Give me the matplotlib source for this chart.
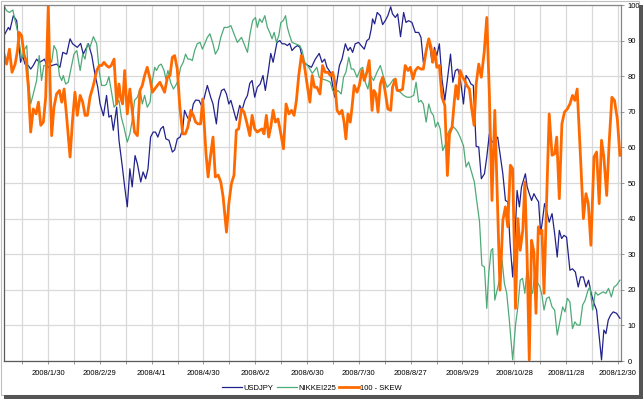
import numpy as np
from matplotlib import pyplot as plt, rcParams, ticker
from matplotlib.patches import Rectangle

rcParams.update({'font.family': ['Liberation Sans', 'DejaVu Sans'], 'font.size': 5.5})

# trading-day index and value (0..100 scaled) for each series
usd_day = [0.0, 1.7, 2.3, 3.6, 4.9, 5.5, 6.4, 7.2, 8.1, 9.4, 10.3, 11.3, 12.6, 13.6, 14.9,
           15.6, 16.5, 17.1, 18.4, 20.3, 21.6, 22.7, 24.2, 25.5, 26.5, 28.3, 29.6, 30.6,
           32.6, 33.9, 35.1, 36.2, 37.1, 38.4, 39.6, 40.5, 41.4, 42.2, 43.5, 44.4, 45.7,
           46.6, 47.6, 48.6, 49.5, 50.6, 51.5, 52.8, 53.7, 54.7, 55.6, 56.6, 57.6, 58.5,
           59.4, 60.5, 61.5, 62.5, 63.7, 65.0, 65.9, 66.9, 68.0, 69.0, 69.7, 70.8, 71.8,
           73.1, 74.0, 75.3, 76.2, 77.2, 78.5, 79.8, 80.7, 82.0, 82.9, 84.0, 85.0, 85.9,
           86.8, 87.6, 88.5, 89.7, 91.0, 91.9, 93.0, 94.0, 94.9, 95.8, 96.8, 97.8, 98.9,
           100.0, 100.9, 102.0, 103.0, 103.9, 104.5, 105.4, 106.5, 107.4, 108.4, 109.4,
           110.3, 111.2, 112.3, 113.3, 114.3, 115.5, 116.5, 117.4, 118.7, 120.2, 121.7,
           122.8, 123.8, 124.7, 126.0, 126.9, 127.7, 128.6, 129.5, 130.5, 131.8, 132.8,
           133.7, 134.6, 135.6, 136.9, 137.9, 139.1, 140.1, 141.0, 141.8, 142.3, 143.1,
           144.1, 145.3, 146.2, 147.2, 148.2, 149.3, 150.0, 151.1, 152.0, 153.1, 154.3,
           155.2, 156.2, 157.5, 158.8, 160.1, 161.0, 161.9, 163.0, 164.0, 165.3, 166.2,
           167.1, 168.1, 169.1, 170.2, 171.3, 172.4, 173.3, 174.3, 175.2, 176.1, 177.4,
           178.4, 179.4, 180.3, 181.2, 182.3, 183.3, 184.3, 185.5, 186.4, 187.4, 188.4,
           189.5, 190.6, 191.5, 192.6, 193.6, 194.5, 195.4, 196.4, 197.3, 198.1, 199.0,
           199.8, 201.3, 202.0, 202.8, 203.7, 204.6, 205.6, 206.4, 207.2, 207.9, 208.7,
           209.5, 210.5, 211.6, 212.6, 213.6, 214.4, 215.3, 216.2, 217.2, 218.5, 219.5,
           220.6, 221.7, 222.6, 223.7, 224.7, 225.7, 226.7, 227.8, 228.8, 229.8, 230.7,
           231.6, 232.4, 233.3, 234.2, 235.2, 236.5, 237.8]
usd_val = [91.4, 93.7, 93.0, 97.0, 95.6, 90.9, 83.9, 85.8, 83.4, 83.0, 82.0, 83.0, 84.8, 83.9,
           84.4, 84.8, 83.0, 82.5, 83.0, 83.4, 82.5, 86.7, 86.2, 90.5, 89.1, 88.1, 89.2, 86.2,
           89.1, 85.8, 80.6, 76.9, 72.2, 68.9, 74.6, 68.5, 69.0, 64.8, 71.3, 62.0, 54.5,
           48.9, 43.3, 54.0, 48.9, 57.7, 55.4, 50.3, 53.1, 51.2, 54.0, 62.9, 64.3, 64.3,
           62.9, 65.2, 65.9, 62.4, 62.0, 58.7, 59.3, 62.4, 62.9, 65.2, 70.4, 68.5, 67.4,
           72.2, 73.3, 73.2, 71.8, 73.6, 77.4, 74.1, 72.2, 66.6, 73.2, 76.0, 76.4, 75.0,
           72.2, 73.2, 70.8, 67.6, 71.8, 70.4, 73.2, 74.6, 78.0, 78.8, 74.1, 76.9, 77.8,
           80.2, 76.0, 81.1, 86.4, 83.9, 86.2, 89.5, 90.0, 89.1, 89.1, 88.6,
           89.2, 87.2, 88.1, 88.6, 88.1, 83.9, 83.4, 83.0, 82.5, 84.8, 86.4,
           83.9, 84.8, 82.5, 81.1, 77.4, 74.1, 78.8, 83.0, 84.8, 89.1, 87.2,
           88.1, 86.7, 89.1, 89.5, 88.6, 87.6, 90.0, 90.5, 93.3, 96.1, 94.7,
           97.9, 97.0, 94.5, 95.6, 97.0, 99.5, 97.5, 96.5, 97.5, 91.1, 97.9,
           95.1, 95.6, 95.1, 92.3, 92.3, 90.9, 83.9, 87.2, 90.5, 83.9, 88.1,
           85.8, 89.1, 79.2, 73.2, 79.7, 86.2, 78.3, 81.6, 82.0, 79.7, 72.2,
           80.2, 79.2, 77.8, 77.4, 60.3, 60.1, 51.2, 52.6, 57.3, 63.8, 61.5,
           61.9, 62.9, 58.2, 52.6, 45.1, 44.7, 33.0, 23.6, 34.8, 47.9, 43.3,
           48.9, 52.6, 48.9, 47.0, 45.1, 47.0, 45.6, 44.7, 35.8, 39.5, 44.2,
           42.3, 39.0, 41.4, 35.8, 29.2, 36.7, 34.4, 35.3, 34.8, 25.5, 25.9,
           25.0, 20.8, 23.6, 23.6, 20.8, 22.7, 19.0, 16.2, 14.3, 6.8, 0.3,
           8.7, 7.7, 11.5, 12.9, 13.8, 13.4, 12.0]

nk_day = [0.0, 1.0, 2.1, 3.4, 4.3, 5.2, 6.2, 6.8, 7.7, 8.8, 9.4, 10.3, 11.3, 12.6, 13.6, 14.5,
          15.4, 16.5, 17.5, 18.4, 19.3, 20.3, 21.4, 22.3, 22.9, 23.8, 24.8, 26.1, 27.0, 28.1,
          29.4, 30.4, 31.3, 32.2, 33.2, 34.5, 35.8, 36.8, 37.7, 39.0, 39.6, 40.5, 41.4, 42.5,
          43.5, 44.4, 45.3, 46.3, 47.6, 48.6, 49.5, 50.4, 51.5, 52.5, 53.4, 54.3, 55.3, 56.4,
          57.3, 58.2, 58.9, 59.8, 60.7, 61.8, 62.5, 63.3, 64.3, 65.4, 66.3, 67.2, 68.2, 69.2,
          70.1, 71.0, 71.8, 72.7, 73.6, 74.6, 75.7, 76.6, 77.5, 78.5, 79.5, 80.7, 81.6, 82.7,
          83.7, 85.0, 86.3, 87.6, 88.8, 90.1, 91.7, 92.7, 94.0, 95.0, 96.0, 97.1, 97.8, 98.7,
          99.6, 100.7, 101.7, 102.6, 103.5, 104.3, 105.2, 106.1, 106.9, 107.8, 108.7, 109.4,
          110.3, 111.2, 112.5, 114.2, 115.1, 116.1, 117.2, 118.1, 119.0, 119.9, 120.8, 121.7,
          123.0, 124.7, 126.0, 126.9, 127.9, 128.9, 130.2, 131.1, 132.0, 133.1, 134.1, 135.0,
          136.3, 137.6, 138.5, 139.5, 140.5, 141.4, 142.7, 144.0, 145.3, 146.6, 147.9, 149.1,
          150.4, 151.7, 153.0, 154.3, 155.6, 156.9, 158.2, 159.1, 160.1, 161.0, 161.9, 163.0,
          164.0, 164.9, 165.8, 166.6, 167.5, 168.4, 169.4, 170.4, 171.3, 172.2, 173.3, 174.3,
          175.2, 176.1, 177.4, 178.4, 179.4, 180.5, 181.6, 182.5, 183.6, 184.5, 185.5, 186.4,
          187.2, 188.1, 188.7, 189.5, 190.4, 191.3, 192.3, 193.2, 194.1, 195.1, 196.4, 197.5,
          198.4, 199.3, 200.2, 201.1, 202.0, 203.1, 204.1, 205.0, 205.9, 206.9, 207.7, 208.5,
          209.5, 210.5, 211.6, 212.6, 213.6, 214.6, 215.7, 216.6, 217.5, 218.5, 219.5, 220.4,
          221.3, 222.4, 223.4, 224.4, 225.5, 226.2, 227.3, 228.3, 229.3, 230.3, 231.4, 232.4,
          233.4, 234.5, 235.5, 236.5, 237.8]
nk_val = [99.8, 98.4, 97.9, 98.6, 95.6, 92.8, 88.1, 84.8, 87.2, 88.6, 79.7, 72.2, 75.0, 78.8,
          85.8, 78.8, 83.0, 83.0, 85.3, 83.9, 88.6, 87.2, 80.2, 78.8, 80.2, 77.8, 78.3, 83.0,
          86.2, 87.2, 81.6, 86.2, 84.8, 89.1, 88.1, 91.1, 89.1, 81.1, 77.4, 77.4, 77.8, 79.9,
          76.0, 71.3, 72.2, 73.2, 68.5, 65.7, 61.5, 63.8, 67.6, 73.2, 74.1, 76.4, 72.2, 74.6,
          71.3, 72.7, 78.8, 82.5, 81.6, 83.0, 83.4, 81.6, 79.2, 81.6, 78.3, 76.4, 77.4, 78.8,
          82.5, 83.9, 86.2, 84.8, 84.8, 84.4, 87.2, 89.1, 89.5, 87.6, 89.1, 90.9, 91.9, 89.1,
          86.2, 87.6, 90.9, 93.7, 93.7, 94.2, 91.9, 89.5, 90.9, 89.1, 86.7, 91.9, 95.6, 96.5,
          93.7, 96.1, 95.1, 97.0, 93.7, 92.3, 90.5, 92.3, 89.5, 91.4, 95.1, 95.6, 97.0, 93.7,
          91.4, 89.5, 89.1, 88.6, 87.2, 83.9, 83.0, 82.0, 80.8, 81.6, 82.5, 79.7,
          79.2, 78.8, 78.3, 76.0, 75.0, 76.0, 75.0, 79.7, 81.1, 85.3, 82.0, 82.0,
          79.7, 82.0, 82.5, 78.3, 76.4, 80.2, 78.8, 81.1, 83.0, 79.7, 76.9, 77.8,
          79.2, 76.0, 75.5, 74.6, 74.1, 74.1, 74.6, 78.3, 72.7, 73.2, 72.2, 67.1,
          72.2, 69.9, 69.0, 65.7, 67.1, 65.2, 59.1, 60.8, 63.8, 65.2, 65.9, 65.2,
          64.3, 62.9, 60.5, 54.5, 55.9, 53.1, 50.3, 45.1, 39.1, 26.9, 26.4, 14.8,
          25.0, 31.1, 31.6, 17.1, 19.9, 22.7, 28.3, 21.8, 19.0, 11.5, 0.3, 10.1,
          15.2, 22.7, 23.2, 19.0, 26.4, 20.8, 19.0, 25.5, 22.2, 20.8, 18.5, 14.3,
          17.6, 18.0, 15.2, 14.3, 7.3, 11.0, 15.2, 13.8, 17.6, 16.6, 9.1, 11.0,
          10.1, 10.1, 15.7, 17.1, 19.9, 20.8, 14.3, 19.4, 18.5, 19.0, 19.4, 19.0,
          20.4, 18.0, 20.8, 21.3, 22.7]

skew_day = [0.0, 1.0, 2.1, 3.1, 4.3, 5.2, 5.9, 6.8, 7.7, 8.5, 9.4, 10.3, 11.3, 12.4, 13.3,
            14.2, 15.2, 16.1, 17.1, 17.8, 18.4, 19.3, 20.3, 21.4, 22.3, 23.2, 24.2, 25.5,
            26.5, 27.4, 28.3, 29.4, 30.4, 31.3, 32.2, 33.2, 34.5, 35.8, 36.8, 37.7, 38.6,
            39.6, 40.5, 41.4, 42.5, 43.5, 44.4, 45.0, 45.8, 46.6, 47.6, 48.6, 49.5, 50.4,
            51.5, 52.5, 53.4, 54.3, 55.3, 56.4, 57.3, 58.2, 59.2, 60.2, 61.1, 62.0, 63.1,
            64.1, 65.0, 65.9, 66.9, 67.9, 69.0, 70.0, 71.0, 72.1, 73.1, 74.0, 74.9, 75.9,
            76.7, 77.2, 78.0, 78.8, 79.5, 80.7, 81.6, 82.7, 83.7, 84.6, 85.9, 86.8, 87.8,
            88.8, 89.7, 90.6, 91.7, 92.7, 93.7, 94.9, 95.8, 96.8, 97.8, 98.7, 99.6, 100.4,
            101.3, 102.2, 103.0, 103.9, 104.8, 105.8, 106.9, 107.9, 108.9, 110.0, 111.0,
            112.0, 112.9, 113.8, 114.8, 115.9, 116.8, 117.4, 118.1, 119.0, 119.9, 120.8,
            122.0, 123.0, 124.0, 125.1, 126.0, 126.9, 127.7, 128.6, 129.5, 130.5, 131.3,
            132.0, 132.8, 133.7, 134.3, 135.2, 136.3, 137.2, 138.2, 139.1, 140.1, 141.0,
            142.1, 142.8, 143.6, 144.4, 145.3, 146.2, 147.2, 148.2, 149.3, 150.0, 151.1,
            151.8, 153.0, 153.9, 154.9, 156.0, 156.9, 157.9, 158.8, 159.8, 161.0, 161.9,
            163.0, 164.0, 164.9, 165.5, 166.3, 167.1, 168.1, 169.1, 170.2, 171.2, 172.0,
            173.0, 173.9, 174.5, 175.3, 176.1, 177.1, 177.9, 178.7, 179.7, 180.5, 181.5,
            182.3, 183.3, 184.3, 185.4, 186.4, 187.4, 188.4, 189.5, 190.5, 191.5, 192.6,
            193.6, 194.5, 195.5, 196.4, 197.5, 198.4, 199.3, 200.3, 201.1, 202.0, 202.8,
            203.7, 204.6, 205.4, 206.3, 207.2, 207.7, 208.5, 209.5, 210.5, 211.6, 212.6,
            213.4, 214.4, 215.4, 216.4, 217.5, 218.5, 219.5, 220.4, 221.3, 222.4, 223.7,
            224.7, 225.6, 226.6, 227.8, 228.8, 229.8, 230.7, 231.6, 232.7, 233.7, 234.7,
            235.7, 236.8, 237.8]
skew_val = [86.2, 83.4, 87.6, 81.1, 83.4, 87.2, 92.3, 91.4, 86.2, 84.4, 76.9, 64.3, 70.8, 69.4,
            72.7, 66.2, 67.1, 74.1, 100.0, 77.8, 63.3, 71.3, 75.0, 76.0, 72.7, 76.4, 68.5,
            57.3, 68.0, 75.5, 69.0, 74.6, 72.7, 69.0, 69.0, 74.1, 77.4, 81.6, 83.0, 83.0,
            83.9, 83.0, 82.5, 83.0, 84.8, 72.2, 77.8, 74.1, 72.2, 81.6, 69.4, 76.4, 70.4,
            64.3, 63.3, 76.0, 77.4, 80.2, 82.5, 79.2, 75.5, 76.4, 77.4, 78.3, 76.9, 75.5,
            79.7, 80.2, 85.3, 85.8, 82.0, 71.3, 63.8, 63.8, 65.7, 70.4, 69.0, 67.1, 66.6,
            66.6, 73.6, 67.6, 58.2, 51.7, 56.3, 62.9, 51.7, 52.2, 50.3, 46.1, 36.2, 44.2,
            49.8, 52.2, 64.8, 65.2, 70.8, 69.9, 67.1, 63.3, 69.0, 65.2, 64.3, 64.8, 65.2,
            63.8, 69.0, 62.9, 65.7, 70.4, 67.1, 68.0, 63.8, 59.6, 72.2, 69.4, 70.4, 69.0,
            73.2, 80.2, 85.8, 83.4, 78.8, 75.9, 72.7, 80.2, 76.9, 76.9, 75.0, 83.0,
            81.1, 81.1, 80.2, 81.1, 78.3, 70.4, 69.4, 70.4, 67.1, 62.4, 69.4, 67.1,
            70.8, 77.4, 75.5, 77.4, 81.6, 78.8, 81.1, 84.4, 70.4, 76.0, 75.0, 69.9,
            77.8, 79.7, 75.5, 70.8, 70.4, 76.9, 79.2, 76.0, 76.0, 76.4, 83.0, 81.6,
            82.5, 79.2, 81.6, 82.5, 82.0, 82.0, 87.2, 90.5, 88.1, 83.9, 87.2, 82.5,
            83.0, 74.1, 71.8, 52.1, 63.8, 65.7, 73.2, 77.4, 73.6, 81.6, 79.7, 78.8,
            77.4, 76.4, 71.3, 66.2, 77.8, 83.4, 79.7, 86.7, 96.5, 75.0, 45.1, 70.4,
            45.1, 19.9, 39.5, 43.3, 37.7, 55.0, 54.0, 14.8, 40.0, 31.1, 36.7, 50.3,
            28.3, 0.3, 33.9, 30.6, 13.4, 37.7, 35.8, 36.7, 19.0, 45.1, 69.4, 57.8,
            58.2, 62.9, 45.6, 66.6, 69.9, 70.8, 72.2, 74.6, 73.2, 76.4, 60.1, 40.0,
            47.0, 44.2, 32.5, 57.3, 58.7, 44.2, 62.0, 57.3, 46.5, 62.0, 74.1, 73.2,
            68.0, 57.8]

tick_days = [17, 37, 57, 77, 97, 117, 137, 157, 177, 197, 217, 237]
tick_labels = ['2008/1/30', '2008/2/29', '2008/4/1', '2008/4/30', '2008/6/2', '2008/6/30',
               '2008/7/30', '2008/8/27', '2008/9/29', '2008/10/28', '2008/11/28', '2008/12/30']

grid_color = '#D9D9D9'
spine_color = '#868686'

fig = plt.figure(figsize=(6.44, 4.0), dpi=100)
ax = fig.add_axes((0.0062, 0.0975, 0.958, 0.89))

ax.plot(usd_day, usd_val, c='#22228C', lw=0.9, label='USDJPY')
ax.plot(nk_day, nk_val, c='#4FAA78', lw=0.9, label='NIKKEI225')
ax.plot(skew_day, skew_val, c='#FF6A00', lw=2.0, label='100 - SKEW')

ax.set_xlim(0, 238.2)
ax.set_ylim(0, 100)
ax.xaxis.set_major_locator(ticker.FixedLocator(tick_days))
ax.xaxis.set_major_formatter(ticker.FixedFormatter(tick_labels))
ax.xaxis.set_minor_locator(ticker.FixedLocator([d - 10 for d in tick_days]))
ax.yaxis.set_major_locator(ticker.MultipleLocator(10))
ax.yaxis.tick_right()
ax.tick_params(axis='both', which='both', direction='out', length=2.5, width=0.6,
               color=spine_color, labelsize=5.5, pad=2.5)
ax.tick_params(axis='x', pad=4)
ax.grid(which='both', color=grid_color, lw=0.9)
ax.set_axisbelow(True)
for s in ax.spines.values():
    s.set_color(spine_color)
    s.set_linewidth(0.9)
ax.spines['left'].set_color('#5A5A5A')
ax.spines['bottom'].set_color('#5A5A5A')

fig.legend(loc='center', bbox_to_anchor=(0.485, 0.03), ncol=3, frameon=False, fontsize=5.5,
           handlelength=2.6, handletextpad=0.2, columnspacing=0.4)

# picture frame and drop shadow
fig.patches.append(Rectangle((0.001, 0.012), 0.992, 0.986, transform=fig.transFigure,
                             fill=False, ec='#BFBFBF', lw=0.8))
fig.patches.append(Rectangle((0.006, 0.002), 0.990, 0.010, transform=fig.transFigure,
                             fc='#555555', ec='none'))
fig.patches.append(Rectangle((0.993, 0.002), 0.006, 0.985, transform=fig.transFigure,
                             fc='#555555', ec='none'))

fig.savefig('out.png', dpi=100)
